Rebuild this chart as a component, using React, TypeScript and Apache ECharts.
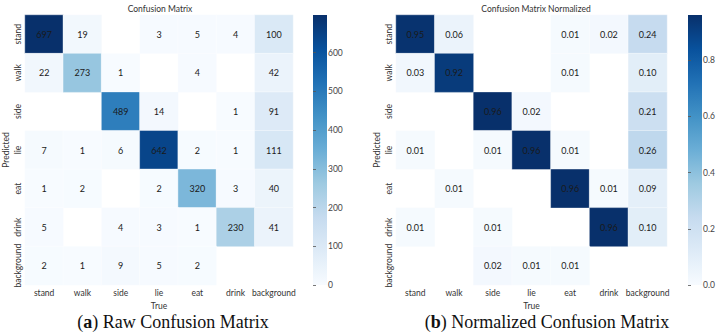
import { useEffect, useRef } from "react";
import * as echarts from "echarts";

// Class labels shared by both matrices (rows = predicted, columns = true)
const classes = ["stand", "walk", "side", "lie", "eat", "drink", "background"];

// Raw counts; zero cells are left blank
const rawCounts: number[][] = [
  [697, 19, 0, 3, 5, 4, 100],
  [22, 273, 1, 0, 4, 0, 42],
  [0, 0, 489, 14, 0, 1, 91],
  [7, 1, 6, 642, 2, 1, 111],
  [1, 2, 0, 2, 320, 3, 40],
  [5, 0, 4, 3, 1, 230, 41],
  [2, 1, 9, 5, 2, 0, 0],
];

// Column-normalized values as shown (null = rounds to 0.00, left blank)
const normalized: (number | null)[][] = [
  [0.95, 0.06, null, null, 0.01, 0.02, 0.24],
  [0.03, 0.92, null, null, 0.01, null, 0.1],
  [null, null, 0.96, 0.02, null, null, 0.21],
  [0.01, null, 0.01, 0.96, 0.01, null, 0.26],
  [null, 0.01, null, null, 0.96, 0.01, 0.09],
  [0.01, null, 0.01, null, null, 0.96, 0.1],
  [null, null, 0.02, 0.01, 0.01, null, null],
];

const rawMax = 697;
const normMax = 0.96;
const rawTicks = [0, 100, 200, 300, 400, 500, 600];
const normTicks = [0, 0.2, 0.4, 0.6, 0.8];

const blues = [
  "#f7fbff", "#deebf7", "#c6dbef", "#9ecae1", "#6baed6",
  "#4292c6", "#2171b5", "#08519c", "#08306b",
];

const toCells = (m: (number | null)[][]) => {
  const out: [number, number, number][] = [];
  m.forEach((row, r) =>
    row.forEach((v, c) => {
      if (v !== null && v !== 0) out.push([c, r, v]);
    })
  );
  return out;
};

const sans = "Lato";
const serif = "Liberation Serif";

const L = { left: 22, top: 15, width: 271, height: 270 };
const R = { left: 396, top: 15, width: 271, height: 270 };
const LB = { left: 313, top: 15, width: 14, height: 270 };
const RB = { left: 688, top: 15, width: 14, height: 270 };

const gradient = () =>
  new echarts.graphic.LinearGradient(
    0, 1, 0, 0,
    blues.map((c, i) => ({ offset: i / (blues.length - 1), color: c }))
  );

const matrixX = (gridIndex: number) => ({
  type: "category",
  gridIndex,
  data: classes,
  name: "True",
  nameLocation: "middle",
  nameGap: 13,
  nameTextStyle: { fontFamily: sans, fontSize: 8.5, color: "#333" },
  axisLine: { show: false },
  axisTick: { show: false },
  axisLabel: { fontFamily: sans, fontSize: 8.5, color: "#333", margin: 3, interval: 0 },
  splitLine: { show: false },
});

const matrixY = (gridIndex: number) => ({
  type: "category",
  gridIndex,
  data: classes,
  inverse: true,
  name: "Predicted",
  nameLocation: "middle",
  nameRotate: 90,
  nameGap: 15,
  nameTextStyle: { fontFamily: sans, fontSize: 8.5, color: "#333" },
  axisLine: { show: false },
  axisTick: { show: false },
  axisLabel: { fontFamily: sans, fontSize: 8.5, color: "#333", rotate: 90, margin: 3, interval: 0 },
  splitLine: { show: false },
});

const barX = (gridIndex: number) => ({ type: "value", gridIndex, show: false, min: 0, max: 1 });

const barY = (gridIndex: number, max: number, ticks: number[], fmt: (v: number) => string) => ({
  type: "value",
  gridIndex,
  min: 0,
  max,
  position: "right",
  axisLine: { show: false },
  splitLine: { show: false },
  axisTick: { show: true, length: 3, lineStyle: { color: "#555", width: 0.8 }, customValues: ticks },
  axisLabel: {
    fontFamily: sans,
    fontSize: 8.5,
    color: "#444",
    margin: 1,
    customValues: ticks,
    formatter: (v: number) => fmt(v),
  },
});

const cellLabel = (fmt: (v: number) => string) => ({
  show: true,
  fontFamily: sans,
  fontSize: 9,
  color: "#1a1a1a",
  textBorderWidth: 0,
  formatter: (p: any) => fmt(p.value[2]),
});

const caption = (x: number, tag: string, rest: string) => ({
  type: "text",
  x,
  y: 322,
  style: {
    text: `({b|${tag}}) ${rest}`,
    rich: { b: { fontFamily: serif, fontSize: 18, fontWeight: "bold", fill: "#111" } },
    fontFamily: serif,
    fontSize: 18,
    fill: "#111",
    align: "center",
    verticalAlign: "middle",
  },
});

export default function App() {
  const ref = useRef<HTMLDivElement>(null);

  useEffect(() => {
    if (!ref.current) return;
    const chart = echarts.init(ref.current, undefined, { renderer: "svg" });
    chart.setOption({
      animation: false,
      backgroundColor: "#ffffff",
      grid: [
        { ...L, containLabel: false },
        { ...R, containLabel: false },
        { ...LB, containLabel: false },
        { ...RB, containLabel: false },
      ],
      xAxis: [matrixX(0), matrixX(1), barX(2), barX(3)],
      yAxis: [
        matrixY(0),
        matrixY(1),
        barY(2, rawMax, rawTicks, (v) => String(v)),
        barY(3, normMax, normTicks, (v) => v.toFixed(1)),
      ],
      visualMap: [
        { type: "continuous", show: false, seriesIndex: 0, min: 0, max: rawMax, inRange: { color: blues } },
        { type: "continuous", show: false, seriesIndex: 1, min: 0, max: normMax, inRange: { color: blues } },
      ],
      series: [
        {
          type: "heatmap",
          xAxisIndex: 0,
          yAxisIndex: 0,
          data: toCells(rawCounts),
          label: cellLabel((v) => String(v)),
          itemStyle: { borderColor: "#ffffff", borderWidth: 0.4 },
        },
        {
          type: "heatmap",
          xAxisIndex: 1,
          yAxisIndex: 1,
          data: toCells(normalized),
          label: cellLabel((v) => v.toFixed(2)),
          itemStyle: { borderColor: "#ffffff", borderWidth: 0.4 },
        },
      ],
      graphic: [
        {
          type: "rect",
          shape: { x: LB.left, y: LB.top, width: LB.width, height: LB.height },
          style: { fill: gradient() },
          z: 0,
        },
        {
          type: "rect",
          shape: { x: RB.left, y: RB.top, width: RB.width, height: RB.height },
          style: { fill: gradient() },
          z: 0,
        },
        {
          type: "text",
          x: 160,
          y: 9,
          style: { text: "Confusion Matrix", fontFamily: sans, fontSize: 8.5, fill: "#333", align: "center", verticalAlign: "middle" },
        },
        {
          type: "text",
          x: 536,
          y: 9,
          style: { text: "Confusion Matrix Normalized", fontFamily: sans, fontSize: 8.5, fill: "#333", align: "center", verticalAlign: "middle" },
        },
        caption(173, "a", "Raw Confusion Matrix"),
        caption(547, "b", "Normalized Confusion Matrix"),
      ],
    });
    return () => chart.dispose();
  }, []);

  return (
    <div
      ref={ref}
      style={{ position: "fixed", left: 0, top: 0, width: 721, height: 334, background: "#fff" }}
    />
  );
}
